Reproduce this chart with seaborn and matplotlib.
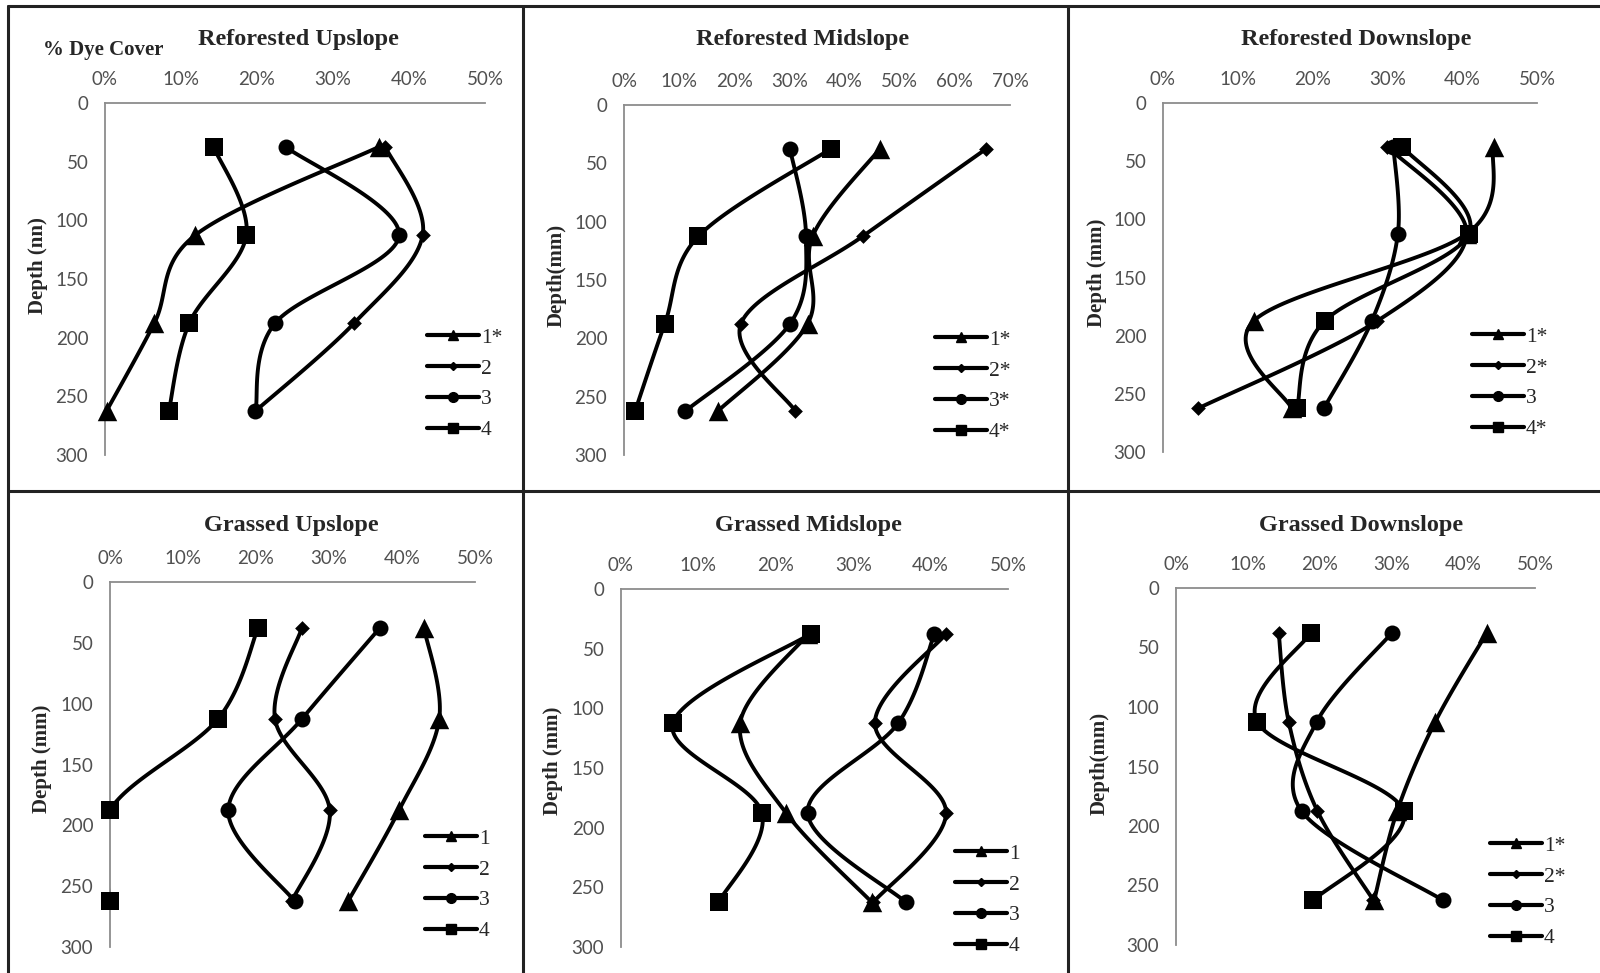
import numpy as np
import pandas as pd
import matplotlib
matplotlib.use("Agg")
import matplotlib.pyplot as plt
from matplotlib.lines import Line2D
import seaborn as sns

sns.set_theme(style="white")
plt.rcParams["font.family"] = ["Liberation Serif", "DejaVu Serif"]

# Sampling depths (mm), centre of each 75 mm layer
depths = [37.5, 112.5, 187.5, 262.5]

# Dye cover (%) per site, series 1-4
ref_up = {"1*": [36.0, 11.9, 6.5, 0.2], "2": [36.9, 41.8, 32.8, 19.8],
          "3": [23.8, 38.7, 22.4, 19.8], "4": [14.3, 18.6, 11.1, 8.4]}
ref_mid = {"1*": [46.4, 34.2, 33.3, 17.0], "2*": [65.7, 43.3, 21.2, 31.1],
           "3*": [30.1, 33.0, 30.1, 11.1], "4*": [37.5, 13.5, 7.4, 2.0]}
ref_down = {"1*": [44.2, 40.6, 12.1, 17.2], "2*": [30.0, 40.6, 28.6, 4.7],
            "3": [30.8, 31.4, 27.9, 21.5], "4*": [32.0, 40.9, 21.6, 17.9]}
grass_up = {"1": [43.0, 45.1, 39.6, 32.6], "2": [26.3, 22.6, 30.1, 24.9],
            "3": [37.0, 26.3, 16.2, 25.3], "4": [20.3, 14.8, 0.0, 0.0]}
grass_mid = {"1": [24.2, 15.4, 21.3, 32.4], "2": [42.0, 32.8, 42.0, 32.6],
             "3": [40.5, 35.8, 24.1, 36.8], "4": [24.5, 6.7, 18.2, 12.6]}
grass_down = {"1*": [43.3, 36.1, 30.8, 27.6], "2*": [14.3, 15.7, 19.7, 27.5],
              "3": [30.1, 19.6, 17.5, 37.2], "4": [18.8, 11.3, 31.7, 19.1]}

titles = ["Reforested Upslope", "Reforested Midslope", "Reforested Downslope",
          "Grassed Upslope", "Grassed Midslope", "Grassed Downslope"]
ylabels = ["Depth (nn)", "Depth(mm)", "Depth (mm)",
           "Depth (mm)", "Depth (mm)", "Depth(mm)"]
xmaxes = [50, 70, 50, 50, 50, 50]
datasets = [ref_up, ref_mid, ref_down, grass_up, grass_mid, grass_down]

markers = ["^", "D", "o", "s"]
msizes = [14, 7.5, 11.5, 13.5]
leg_msizes = [7, 4.5, 7, 7.5]

W, H = 1600, 973
# pixel boxes of each plot area: x of 0, x of max, y of depth 0, y of depth 300
boxes = [(105, 485, 103, 455), (624, 1010, 105, 455), (1163, 1537, 103, 452),
         (110, 475, 582, 947), (621, 1008, 589, 947), (1176, 1535, 588, 945)]
title_pos = [(298, 39), (803, 39), (1356, 39), (291, 525), (808, 525), (1361, 525)]
ylabel_pos = [(38, 266), (557, 275), (1097, 273), (42, 759), (553, 761), (1100, 763)]
legend_pos = [(427, 384), (935, 386), (1472, 383), (425, 885), (955, 900), (1490, 892)]

AXIS_GREY = "#8c8c8c"
TICK_GREY = "#505050"


def smooth_path(ax, xs, ys, n=40):
    """Bezier smoothing (Catmull-Rom style) done in display space."""
    pts = ax.transData.transform(np.column_stack([xs, ys]))
    m = len(pts)
    out = [pts[0]]
    for i in range(m - 1):
        p0 = pts[max(i - 1, 0)]
        p1 = pts[i]
        p2 = pts[i + 1]
        p3 = pts[min(i + 2, m - 1)]
        c1 = p1 + (p2 - p0) / 6.0
        c2 = p2 - (p3 - p1) / 6.0
        t = np.linspace(0, 1, n)[1:, None]
        seg = ((1 - t) ** 3) * p1 + 3 * ((1 - t) ** 2) * t * c1 \
            + 3 * (1 - t) * t ** 2 * c2 + t ** 3 * p2
        out.extend(seg)
    out = np.array(out)
    data = ax.transData.inverted().transform(out)
    return data[:, 0], data[:, 1]


fig = plt.figure(figsize=(16, 9.73), dpi=100)

for k in range(6):
    x0, x1, y0, y1 = boxes[k]
    ax = fig.add_axes([x0 / W, 1 - y1 / H, (x1 - x0) / W, (y1 - y0) / H])
    ax.set_xlim(0, xmaxes[k])
    ax.set_ylim(300, 0)
    ax.set_facecolor("none")

    handles = []
    for j, (label, vals) in enumerate(datasets[k].items()):
        cx, cy = smooth_path(ax, vals, depths)
        curve = pd.DataFrame({"cover": cx, "depth": cy})
        # curves are clipped to the plot area, markers are not
        sns.lineplot(data=curve, x="cover", y="depth", sort=False, estimator=None,
                     color="black", linewidth=2.8, ax=ax, legend=False)
        pts = pd.DataFrame({"cover": vals, "depth": depths})
        sns.scatterplot(data=pts, x="cover", y="depth", marker=markers[j],
                        s=msizes[j] ** 2, color="black", linewidth=0, ax=ax,
                        legend=False, zorder=5, clip_on=False)
        handles.append(Line2D([0], [0], color="black", lw=3, marker=markers[j],
                              markersize=leg_msizes[j], label=label))

    ax.set_xlim(0, xmaxes[k])
    ax.set_ylim(300, 0)
    ax.set_xticks(np.arange(0, xmaxes[k] + 1, 10))
    ax.set_xticklabels([f"{v}%" for v in range(0, xmaxes[k] + 1, 10)])
    ax.set_yticks(np.arange(0, 301, 50))
    ax.xaxis.tick_top()
    ax.tick_params(axis="x", length=0, pad=11, labelsize=13.5, labelcolor=TICK_GREY)
    ax.tick_params(axis="y", length=0, pad=12, labelsize=13.5, labelcolor=TICK_GREY)
    for lab in ax.get_xticklabels() + ax.get_yticklabels():
        lab.set_fontfamily(["Lato", "DejaVu Sans"])
    for side in ["bottom", "right"]:
        ax.spines[side].set_visible(False)
    for side in ["top", "left"]:
        ax.spines[side].set_color(AXIS_GREY)
        ax.spines[side].set_linewidth(1.3)
    ax.set_xlabel("")
    ax.set_ylabel("")

    fig.text(title_pos[k][0] / W, 1 - title_pos[k][1] / H, titles[k],
             ha="center", va="center", fontsize=17.5, fontweight="bold")
    fig.text(ylabel_pos[k][0] / W, 1 - ylabel_pos[k][1] / H, ylabels[k],
             ha="center", va="center", rotation=90, fontsize=15, fontweight="bold")

    lx, ly = legend_pos[k]
    ax.legend(handles=handles, loc="center left",
              bbox_to_anchor=(lx / W, 1 - ly / H), bbox_transform=fig.transFigure,
              frameon=False, fontsize=15.5, handlelength=2.4, handletextpad=0.1,
              labelspacing=0.5, borderpad=0, borderaxespad=0)

fig.text(103 / W, 1 - 50 / H, "% Dye Cover", ha="center", va="center",
         fontsize=15, fontweight="bold")

# panel frame lines
frame = dict(color="#222222", linewidth=2.2, transform=fig.transFigure)
fig.add_artist(Line2D([8 / W, 8 / W], [0, 1 - 6 / H], **frame))
fig.add_artist(Line2D([8 / W, 1], [1 - 6 / H, 1 - 6 / H], **frame))
fig.add_artist(Line2D([523 / W, 523 / W], [0, 1 - 6 / H], **frame))
fig.add_artist(Line2D([1068 / W, 1068 / W], [0, 1 - 6 / H], **frame))
fig.add_artist(Line2D([8 / W, 1], [1 - 491 / H, 1 - 491 / H], **frame))

fig.savefig("out.png", dpi=100, facecolor="white")
